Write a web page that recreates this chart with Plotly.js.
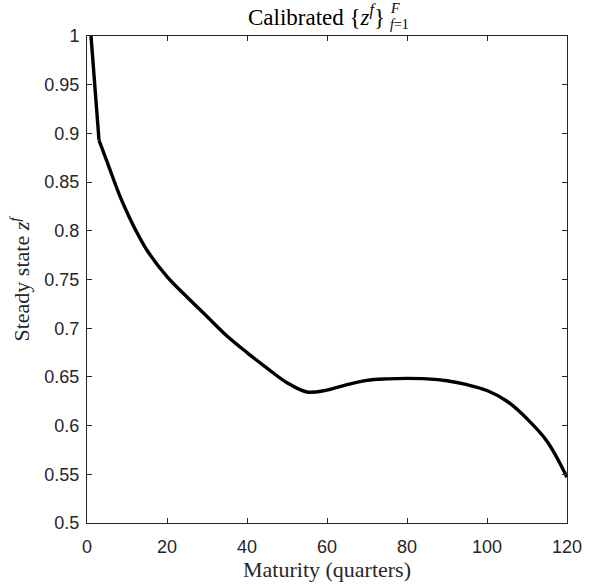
<!DOCTYPE html>
<html>
<head>
<meta charset="utf-8">
<script src="https://cdn.plot.ly/plotly-3.0.1.min.js"></script>
<style>html,body{margin:0;padding:0;background:#fff;}</style>
</head>
<body>
<div id="chart" style="width:591px;height:584px;"></div>
<script>
// Maturity in quarters
var maturity = [1, 2, 3, 5, 8, 10, 12, 15, 20, 25, 30, 35, 40, 45, 50, 55, 60, 65, 70, 75, 80, 85, 90, 95, 100, 105, 110, 115, 120];
// Steady state z^f
var zSteady = [1.0, 0.946, 0.893, 0.871, 0.838, 0.819, 0.802, 0.780, 0.753, 0.732, 0.712, 0.692, 0.675, 0.659, 0.644, 0.6345, 0.6365, 0.642, 0.6465, 0.648, 0.6485, 0.648, 0.646, 0.642, 0.636, 0.625, 0.607, 0.584, 0.547];
var xTicks = [0, 20, 40, 60, 80, 100, 120];
var yTicks = [0.5, 0.55, 0.6, 0.65, 0.7, 0.75, 0.8, 0.85, 0.9, 0.95, 1];
var yTickText = ['0.5', '0.55', '0.6', '0.65', '0.7', '0.75', '0.8', '0.85', '0.9', '0.95', '1'];

var serif = 'Liberation Serif, DejaVu Serif, serif';
var sans = 'Liberation Sans, Arial, sans-serif';

// short maturities (up to the kink at 3 quarters) drawn straight, the rest smoothed
var kink = maturity.indexOf(3);
var traceShort = {
  x: maturity.slice(0, kink + 1), y: zSteady.slice(0, kink + 1), type: 'scatter', mode: 'lines',
  line: {color: '#000000', width: 3.4, shape: 'linear'}, hoverinfo: 'skip'
};
var traceLong = {
  x: maturity.slice(kink), y: zSteady.slice(kink), type: 'scatter', mode: 'lines',
  line: {color: '#000000', width: 3.4, shape: 'spline', smoothing: 1}, hoverinfo: 'skip'
};

var axisCommon = {
  showgrid: false, zeroline: false, showline: true, linecolor: '#262626', linewidth: 1,
  mirror: 'ticks', ticks: 'inside', ticklen: 5, tickwidth: 1, tickcolor: '#262626',
  tickfont: {family: sans, size: 18, color: '#262626'}
};

var layout = {
  width: 591, height: 584,
  margin: {l: 87, r: 24, t: 36, b: 61},
  paper_bgcolor: '#ffffff', plot_bgcolor: '#ffffff',
  showlegend: false,
  xaxis: Object.assign({}, axisCommon, {
    range: [0, 120], tickvals: xTicks, ticktext: xTicks.map(String),
    ticklabelstandoff: 7,
    title: {text: 'Maturity (quarters)', font: {family: serif, size: 22, color: '#262626'}, standoff: 2}
  }),
  yaxis: Object.assign({}, axisCommon, {
    range: [0.5, 1], tickvals: yTicks, ticktext: yTickText,
    ticklabelstandoff: 3,
    title: {text: 'Steady state <i>z</i><sup><i>f</i></sup>', font: {family: serif, size: 22, color: '#262626'}, standoff: 8}
  }),
  annotations: [
    {text: 'Calibrated {<i>z</i><sup><i>f</i></sup>}', xref: 'paper', yref: 'paper', x: 0.625, y: 1.0, xanchor: 'right', yanchor: 'bottom', yshift: 4, showarrow: false,
     font: {family: serif, size: 23, color: '#000000'}},
    {text: '<i>F</i>', xref: 'paper', yref: 'paper', x: 0.627, y: 1.0, xanchor: 'left', yanchor: 'bottom', yshift: 18, showarrow: false,
     font: {family: serif, size: 14, color: '#000000'}},
    {text: '<i>f</i>=1', xref: 'paper', yref: 'paper', x: 0.627, y: 1.0, xanchor: 'left', yanchor: 'bottom', yshift: 2, showarrow: false,
     font: {family: serif, size: 14, color: '#000000'}}
  ]
};

Plotly.newPlot('chart', [traceShort, traceLong], layout, {staticPlot: true, displayModeBar: false});
</script>
</body>
</html>
